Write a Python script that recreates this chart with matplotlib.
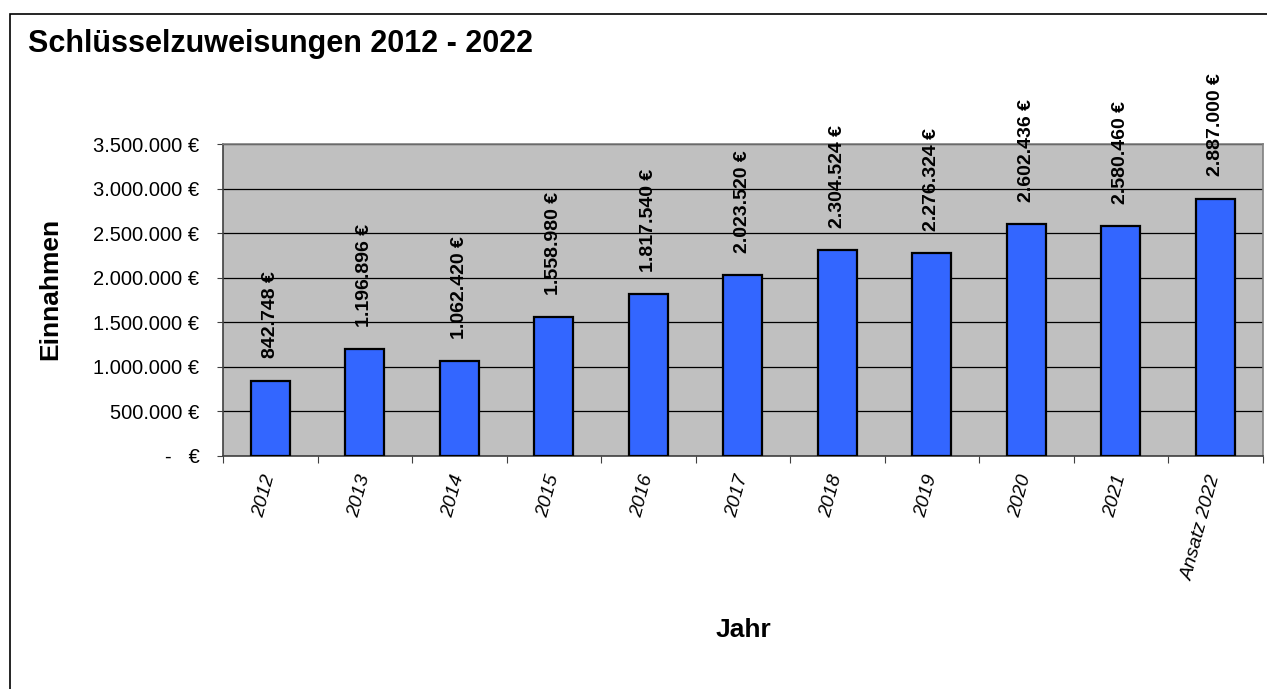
import numpy as np
import matplotlib.pyplot as plt
from matplotlib.patches import Rectangle

plt.rcParams['font.family'] = ['Liberation Sans', 'DejaVu Sans']

jahre = ['2012', '2013', '2014', '2015', '2016', '2017', '2018', '2019', '2020', '2021', 'Ansatz 2022']
einnahmen = [842748, 1196896, 1062420, 1558980, 1817540, 2023520, 2304524, 2276324, 2602436, 2580460, 2887000]
y_ticks = [0, 500000, 1000000, 1500000, 2000000, 2500000, 3000000, 3500000]


def euro(v):
    if v == 0:
        return '-   €'
    return f'{v:,.0f}'.replace(',', '.') + ' €'


fig = plt.figure(figsize=(12.67, 6.89), dpi=100)
# Rahmen (nur links und oben sichtbar)
fig.patches.append(Rectangle((10 / 1267, -0.1), 1.2, 1.1 - 14 / 689,
                             transform=fig.transFigure, fill=False,
                             edgecolor='black', linewidth=1.2, zorder=0))

ax = fig.add_axes([223 / 1267, 1 - 455.7 / 689, 1039.5 / 1267, 311.7 / 689])
ax.set_facecolor('#C0C0C0')

x = np.arange(len(jahre))
ax.bar(x, einnahmen, width=0.41, color='#3366FF', edgecolor='black', linewidth=1.6, zorder=3)

for xi, v in zip(x, einnahmen):
    ax.annotate(euro(v), (xi, v), xytext=(0, 16), textcoords='offset points',
                rotation=90, ha='center', va='bottom', fontsize=14,
                fontweight='bold', annotation_clip=False)

ax.set_xlim(-0.5, len(jahre) - 0.5)
ax.set_ylim(0, 3500000)
ax.set_yticks(y_ticks)
ax.set_yticklabels([euro(v) for v in y_ticks], fontsize=14.5)
ax.yaxis.grid(True, color='black', linewidth=0.9, zorder=1)
ax.set_axisbelow(True)

ax.set_xticks(np.arange(len(jahre) + 1) - 0.5)
ax.set_xticklabels([])
ax.set_xticks(x, minor=True)
ax.set_xticklabels(jahre, minor=True, rotation=75, fontsize=14, style='italic',
                   ha='right', va='center', rotation_mode='anchor')
ax.tick_params(axis='x', which='minor', length=0, pad=14)
ax.tick_params(axis='x', which='major', length=5, direction='out', color='#404040')
ax.tick_params(axis='y', length=4.5, direction='out', color='#404040', pad=12.5)

for s in ax.spines.values():
    s.set_color('#808080')
    s.set_linewidth(1.2)
ax.spines['bottom'].set_color('#404040')
ax.spines['left'].set_color('#404040')

ax.set_ylabel('Einnahmen', fontsize=19, fontweight='bold')
ax.yaxis.set_label_coords(-0.155, 0.535)
fig.text(743 / 1267, 1 - 630 / 689, 'Jahr', fontsize=19, fontweight='bold',
         ha='center', va='center')

fig.text(28 / 1267, 1 - 52 / 689, 'Schlüsselzuweisungen 2012 - 2022', fontsize=22,
         fontweight='bold', ha='left', va='baseline')

fig.savefig('out.png', dpi=100)
